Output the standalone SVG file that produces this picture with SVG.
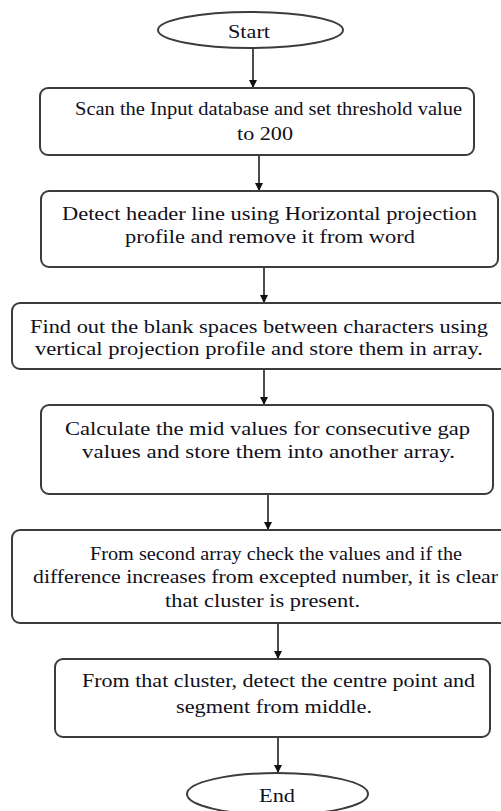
<svg xmlns="http://www.w3.org/2000/svg" width="501" height="811" viewBox="0 0 501 811">
<defs>
<style>
.box{fill:#fff;stroke:#3c3c3c;stroke-width:2}
.t{font-family:"Liberation Serif","Times New Roman",serif;font-size:19px;fill:#10101c;text-anchor:middle}
.c{stroke:#111;stroke-width:1.5;fill:none;marker-end:url(#ah)}
</style>
<marker id="ah" viewBox="0 0 10 10" refX="10" refY="5" markerWidth="8" markerHeight="8" markerUnits="userSpaceOnUse" orient="auto">
<path d="M0,0 L10,5 L0,10 Z" fill="#111"/>
</marker>
</defs>
<rect width="501" height="811" fill="#fff"/>
<g id="connectors">
<line class="c" x1="253" y1="48" x2="253" y2="88"/>
<line class="c" x1="259" y1="155" x2="259" y2="191"/>
<line class="c" x1="264" y1="267" x2="264" y2="303"/>
<line class="c" x1="264" y1="369" x2="264" y2="405"/>
<line class="c" x1="268" y1="494" x2="268" y2="530"/>
<line class="c" x1="278" y1="623" x2="278" y2="659"/>
<line class="c" x1="278" y1="737" x2="278" y2="773"/>
</g>
<g id="start">
<ellipse class="box" cx="250.5" cy="30" rx="92.5" ry="18"/>
<text class="t" x="249" y="38" textLength="42" lengthAdjust="spacingAndGlyphs">Start</text>
</g>
<g id="n1">
<rect class="box" x="40" y="88" width="434" height="67" rx="8"/>
<text class="t" x="268.5" y="115" textLength="387" lengthAdjust="spacingAndGlyphs">Scan the Input database and set threshold value</text>
<text class="t" x="265" y="140" textLength="56" lengthAdjust="spacingAndGlyphs">to 200</text>
</g>
<g id="n2">
<rect class="box" x="41" y="191" width="457" height="76" rx="8"/>
<text class="t" x="269.5" y="220" textLength="415" lengthAdjust="spacingAndGlyphs">Detect header line using Horizontal projection</text>
<text class="t" x="270" y="243" textLength="290" lengthAdjust="spacingAndGlyphs">profile and remove it from word</text>
</g>
<g id="n3">
<rect class="box" x="12" y="303" width="500" height="66" rx="8"/>
<text class="t" x="259" y="333" textLength="458" lengthAdjust="spacingAndGlyphs">Find out the blank spaces between characters using</text>
<text class="t" x="259" y="355" textLength="448" lengthAdjust="spacingAndGlyphs">vertical projection profile and store them in array.</text>
</g>
<g id="n4">
<rect class="box" x="41" y="405" width="452" height="89" rx="8"/>
<text class="t" x="267.5" y="435" textLength="405" lengthAdjust="spacingAndGlyphs">Calculate the mid values for consecutive gap</text>
<text class="t" x="268.5" y="458" textLength="373" lengthAdjust="spacingAndGlyphs">values and store them into another array.</text>
</g>
<g id="n5">
<rect class="box" x="12" y="530" width="500" height="93" rx="8"/>
<text class="t" x="276" y="560" textLength="372" lengthAdjust="spacingAndGlyphs">From second array check the values and if the</text>
<text class="t" x="265.5" y="583" textLength="465" lengthAdjust="spacingAndGlyphs">difference increases from excepted number, it is clear</text>
<text class="t" x="262.5" y="607" textLength="195" lengthAdjust="spacingAndGlyphs">that cluster is present.</text>
</g>
<g id="n6">
<rect class="box" x="55" y="659" width="435" height="78" rx="8"/>
<text class="t" x="278.5" y="687" textLength="393" lengthAdjust="spacingAndGlyphs">From that cluster, detect the centre point and</text>
<text class="t" x="274" y="713" textLength="196" lengthAdjust="spacingAndGlyphs">segment from middle.</text>
</g>
<g id="end">
<ellipse class="box" cx="277.5" cy="794" rx="90.5" ry="21"/>
<text class="t" x="277" y="802" textLength="36" lengthAdjust="spacingAndGlyphs">End</text>
</g>
</svg>
